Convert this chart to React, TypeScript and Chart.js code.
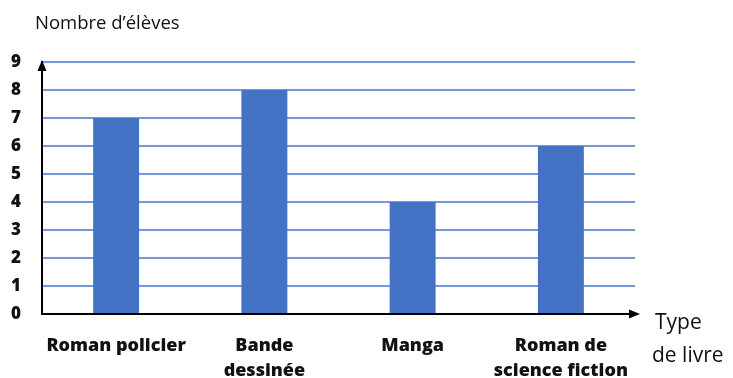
import React, { useEffect, useRef } from "react";
import { Chart, registerables } from "chart.js";

Chart.register(...registerables);

const categories: (string | string[])[] = [
  "Roman policier",
  ["Bande", "dessinée"],
  "Manga",
  ["Roman de", "science fiction"],
];
const values = [7, 8, 4, 6];
const yMax = 9;
const titleText = "Nombre d’élèves";
const xTitleLines = ["Type", "de livre"];

const arrowPlugin = {
  id: "arrows",
  afterDraw(chart: any) {
    const { ctx, chartArea } = chart;
    ctx.save();
    ctx.fillStyle = "#000";
    const x0 = chartArea.left;
    ctx.beginPath();
    ctx.moveTo(x0, chartArea.top - 2);
    ctx.lineTo(x0 - 4.5, chartArea.top + 9);
    ctx.lineTo(x0 + 4.5, chartArea.top + 9);
    ctx.closePath();
    ctx.fill();
    const y0 = chartArea.bottom;
    ctx.beginPath();
    ctx.moveTo(chartArea.right + 5, y0);
    ctx.lineTo(chartArea.right - 6, y0 - 4.5);
    ctx.lineTo(chartArea.right - 6, y0 + 4.5);
    ctx.closePath();
    ctx.fill();
    ctx.restore();
  },
};

export default function App() {
  const ref = useRef<HTMLCanvasElement>(null);
  useEffect(() => {
    const chart = new Chart(ref.current!, {
      type: "bar",
      data: {
        labels: categories,
        datasets: [
          {
            data: values,
            backgroundColor: "#4472C4",
            barPercentage: 0.62,
            categoryPercentage: 0.5,
          },
        ],
      },
      options: {
        animation: false,
        responsive: false,
        maintainAspectRatio: false,
        layout: { padding: { top: 62, right: 98, left: 0, bottom: 0 } },
        plugins: { legend: { display: false }, tooltip: { enabled: false } },
        scales: {
          x: {
            afterFit: (s: any) => {
              s.height = 64;
            },
            grid: { display: false, drawTicks: false },
            border: { display: true, color: "#000", width: 2 },
            ticks: {
              color: "#111",
              padding: 19,
              maxRotation: 0,
              autoSkip: false,
              font: { family: "'Open Sans'", size: 18, weight: "800", lineHeight: 1.4 },
            },
          },
          y: {
            min: 0,
            max: yMax,
            afterFit: (s: any) => {
              s.width = 42;
            },
            grid: { color: "#7598D6", lineWidth: 2, drawTicks: false },
            border: { display: true, color: "#000", width: 2 },
            ticks: {
              stepSize: 1,
              color: "#111",
              padding: 21,
              font: { family: "'Open Sans'", size: 17, weight: "800" },
            },
          },
        },
      },
      plugins: [arrowPlugin],
    });
    return () => chart.destroy();
  }, []);

  return (
    <div style={{ position: "absolute", left: 0, top: 0, width: 733, height: 378, background: "#fff" }}>
      <canvas ref={ref} width={733} height={378} style={{ position: "absolute", left: 0, top: 0 }} />
      <div
        style={{
          position: "absolute",
          left: 35,
          top: 9,
          fontFamily: "'Open Sans'",
          fontSize: 18.5,
          lineHeight: "26px",
          color: "#111",
          whiteSpace: "nowrap",
        }}
      >
        {titleText}
      </div>
      <div
        style={{
          position: "absolute",
          left: 652,
          top: 305,
          fontFamily: "'Open Sans'",
          fontSize: 21,
          lineHeight: "33px",
          color: "#111",
          whiteSpace: "nowrap",
        }}
      >
        {xTitleLines.map((l, i) => (
          <div key={i} style={{ paddingLeft: i === 0 ? 3 : 0 }}>{l}</div>
        ))}
      </div>
    </div>
  );
}
